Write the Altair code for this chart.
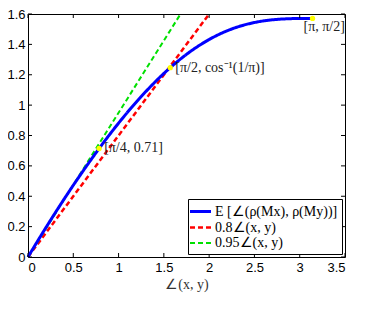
import altair as alt
import pandas as pd

# ---- data ----
theta = [0, 0.1, 0.25, 0.5, 0.75, 0.7854, 1.0, 1.25, 1.5, 1.5708, 1.75, 2.0, 2.25, 2.5, 2.75, 3.0, 3.1416]
expected_angle = [0, 0.0989, 0.2433, 0.4723, 0.6856, 0.7145, 0.8814, 1.0565, 1.2085, 1.2468,
                  1.3343, 1.4321, 1.5014, 1.5439, 1.5645, 1.5705, 1.5708]
red_x = [0, 2.0]
red_y = [0, 1.6]
green_x = [0, 1.6842]
green_y = [0, 1.6]
series_names = ["E [∠(ρ(Mx), ρ(My))]", "0.8∠(x, y)", "0.95∠(x, y)"]
series_colors = ["#0000ff", "#ff0000", "#00e000"]
marker_x = [0.7854, 1.5708, 3.1416]
marker_y = [0.7145, 1.2468, 1.5708]
marker_labels = ["[π/4, 0.71]", "[π/2, cos⁻¹(1/π)]", "[π, π/2]"]
x_ticks = [0, 0.5, 1, 1.5, 2, 2.5, 3, 3.5]
y_ticks = [0, 0.2, 0.4, 0.6, 0.8, 1, 1.2, 1.4, 1.6]

W, H = 317, 243

rows = []
for i, (a, b) in enumerate(zip(theta, expected_angle)):
    rows.append({"series": series_names[0], "x": a, "y": b, "o": i})
for i, (a, b) in enumerate(zip(red_x, red_y)):
    rows.append({"series": series_names[1], "x": a, "y": b, "o": i})
for i, (a, b) in enumerate(zip(green_x, green_y)):
    rows.append({"series": series_names[2], "x": a, "y": b, "o": i})
lines_df = pd.DataFrame(rows)

marks_df = pd.DataFrame({"x": marker_x, "y": marker_y, "label": marker_labels})
xt_df = pd.DataFrame({"x": x_ticks})
yt_df = pd.DataFrame({"y": y_ticks})

xs = alt.Scale(domain=[0, 3.5], nice=False, zero=False)
ys = alt.Scale(domain=[0, 1.6], nice=False, zero=False)
x_axis = alt.Axis(values=x_ticks, format="~g", grid=False, ticks=False, domain=False,
                  labelPadding=4, titlePadding=3)
y_axis = alt.Axis(values=y_ticks, format="~g", grid=False, ticks=False, domain=False,
                  labelPadding=3)
X = alt.X("x:Q", scale=xs, title="∠(x, y)", axis=x_axis)
Y = alt.Y("y:Q", scale=ys, title=None, axis=y_axis)

blue = alt.Chart(lines_df[lines_df.series == series_names[0]]).mark_line(interpolate="monotone")
dashed = alt.Chart(lines_df[lines_df.series != series_names[0]]).mark_line()

enc = dict(
    x=X, y=Y,
    color=alt.Color("series:N", scale=alt.Scale(domain=series_names, range=series_colors),
                    legend=alt.Legend(title=None)),
    strokeDash=alt.StrokeDash("series:N",
                              scale=alt.Scale(domain=series_names, range=[[1, 0], [5, 3], [5, 3]]),
                              legend=alt.Legend(title=None)),
    strokeWidth=alt.StrokeWidth("series:N",
                                scale=alt.Scale(domain=series_names, range=[3, 2, 2]),
                                legend=None),
    order="o:Q",
)
dashed = dashed.encode(**enc)
blue = blue.encode(**enc)

points = alt.Chart(marks_df).mark_circle(size=28, color="#ffff00", opacity=1).encode(x=X, y=Y)

def label_layer(idx, dx, dy, align="left"):
    return alt.Chart(marks_df.iloc[[idx]]).mark_text(
        align=align, baseline="middle", dx=dx, dy=dy,
        font="Liberation Serif", fontSize=14, color="#222222"
    ).encode(x=X, y=Y, text="label:N")

labels = label_layer(0, 5, 0) + label_layer(1, 5, 0) + label_layer(2, -9, 9)

tick_style = dict(color="black", strokeWidth=1)
xt_bottom = alt.Chart(xt_df).mark_rule(**tick_style).encode(x=X, y=alt.value(H), y2=alt.value(H - 4))
xt_top = alt.Chart(xt_df).mark_rule(**tick_style).encode(x=X, y=alt.value(0), y2=alt.value(4))
yt_left = alt.Chart(yt_df).mark_rule(**tick_style).encode(y=Y, x=alt.value(0), x2=alt.value(4))
yt_right = alt.Chart(yt_df).mark_rule(**tick_style).encode(y=Y, x=alt.value(W - 4), x2=alt.value(W))

chart = alt.layer(
    dashed, blue, points, labels, xt_bottom, xt_top, yt_left, yt_right
).properties(
    width=W, height=H,
    autosize=alt.AutoSizeParams(type="none"),
    padding={"left": 20, "top": 6, "right": 15, "bottom": 50},
).configure_view(
    stroke="black", strokeWidth=1
).configure_axis(
    labelFont="Liberation Sans", labelFontSize=13, labelColor="black",
    titleFont="Liberation Serif", titleFontSize=14, titleFontWeight="normal", titleColor="#333333",
).configure_legend(
    orient="bottom-right", offset=3, padding=4, strokeColor="black", fillColor="white",
    cornerRadius=0, labelFont="Liberation Serif", labelFontSize=14, labelColor="black",
    symbolType="M-1.5,0H1.5", symbolSize=196, symbolStrokeWidth=2.5, rowPadding=0,
    labelOffset=6, labelLimit=300,
)

chart.save("out.html", embed_options={"renderer": "svg", "actions": False})
